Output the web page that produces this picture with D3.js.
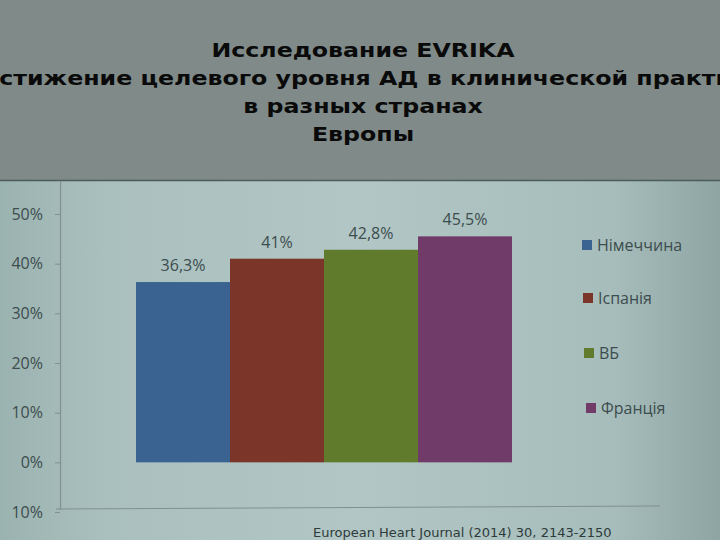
<!DOCTYPE html>
<html>
<head>
<meta charset="utf-8">
<script src="https://cdn.jsdelivr.net/npm/d3@7"></script>
<style>
  body { margin: 0; background: #7f8a89; }
  svg { display: block; }
</style>
</head>
<body>
<div id="chart"></div>
<script>
var titleLines = ["Исследование EVRIKA",
                  "Достижение целевого уровня АД в клинической практике",
                  "в разных странах",
                  "Европы"],
    countries = ["Німеччина", "Іспанія", "ВБ", "Франція"],
    values = [36.3, 41, 42.8, 45.5],
    valueLabels = ["36,3%", "41%", "42,8%", "45,5%"],
    colors = ["#3b6391", "#7c3529", "#617b2d", "#713b69"],
    tickValues = [-10, 0, 10, 20, 30, 40, 50],
    tickLabels = ["10%", "0%", "10%", "20%", "30%", "40%", "50%"],
    source = "European Heart Journal (2014) 30, 2143-2150";

var W = 720, H = 540;

var svg = d3.select("#chart")
            .append("svg")
            .attr("width", W)
            .attr("height", H);

var defs = svg.append("defs");
var grad = defs.append("linearGradient").attr("id", "slide")
               .attr("x1", "0").attr("x2", "1").attr("y1", "0").attr("y2", "0");
grad.append("stop").attr("offset", "0").attr("stop-color", "#9bb3b0");
grad.append("stop").attr("offset", "0.15").attr("stop-color", "#aac0be");
grad.append("stop").attr("offset", "0.5").attr("stop-color", "#b2c7c5");
grad.append("stop").attr("offset", "0.85").attr("stop-color", "#a6bdbb");
grad.append("stop").attr("offset", "1").attr("stop-color", "#8ea5a3");

// banda gris del titulo
svg.append("rect").attr("width", W).attr("height", 180).attr("fill", "#7f8a89");
svg.append("rect").attr("y", 180).attr("width", W).attr("height", H - 180).attr("fill", "url(#slide)");
svg.append("line").attr("x1", 0).attr("x2", W).attr("y1", 180.5).attr("y2", 180.5)
   .attr("stroke", "#4d5b5b").attr("stroke-width", 1.5);

// el titulo aparece estirado en horizontal
var titleY = [57, 85, 113, 141];
svg.append("g")
   .attr("transform", "translate(363,0) scale(1.185,1)")
   .selectAll("text")
   .data(titleLines)
   .enter().append("text")
   .attr("x", 0)
   .attr("y", (d, i) => titleY[i])
   .attr("text-anchor", "middle")
   .attr("font-family", "DejaVu Sans")
   .attr("font-weight", "bold")
   .attr("font-size", 20)
   .attr("fill", "#0a0a0a")
   .text(d => d);

// escalas
var y = d3.scaleLinear().domain([-10, 50]).range([512, 214]);
var x = d3.scaleBand().domain(countries).range([136, 512]).padding(0);

var textColor = "#3d4c4e",
    labelFont = "Open Sans";

var yAxis = d3.axisLeft(y)
              .tickValues(tickValues)
              .tickSize(5)
              .tickPadding(12)
              .tickFormat((d, i) => tickLabels[i]);

var gy = svg.append("g")
            .attr("transform", "translate(60,0)")
            .call(yAxis);
gy.select(".domain").remove();
gy.selectAll(".tick line").attr("stroke", "#7f9191");
gy.selectAll(".tick text")
  .attr("font-family", labelFont)
  .attr("font-size", 16)
  .attr("fill", textColor);

svg.append("line").attr("x1", 60.5).attr("x2", 60.5).attr("y1", 181).attr("y2", 510)
   .attr("stroke", "#7f9191").attr("stroke-width", 1.2);
svg.append("line").attr("x1", 56).attr("x2", 660).attr("y1", 509).attr("y2", 506)
   .attr("stroke", "#7f9191").attr("stroke-width", 1.2);

// barras
svg.append("g").selectAll("rect")
   .data(values)
   .enter().append("rect")
   .attr("x", (d, i) => x(countries[i]))
   .attr("width", x.bandwidth())
   .attr("y", d => y(d))
   .attr("height", d => y(0) - y(d))
   .attr("fill", (d, i) => colors[i]);

svg.append("g").selectAll("text")
   .data(values)
   .enter().append("text")
   .attr("x", (d, i) => x(countries[i]) + x.bandwidth() / 2)
   .attr("y", d => y(d) - 11)
   .attr("text-anchor", "middle")
   .attr("font-family", labelFont)
   .attr("font-size", 16)
   .attr("fill", textColor)
   .text((d, i) => valueLabels[i]);

// leyenda
var legendY = [245, 298, 353, 408],
    legendX = [582, 583, 584, 586];
var lg = svg.append("g").selectAll("g")
            .data(countries)
            .enter().append("g")
            .attr("transform", (d, i) => "translate(" + legendX[i] + "," + legendY[i] + ")");
lg.append("rect").attr("x", 0).attr("y", -5).attr("width", 10).attr("height", 10)
  .attr("fill", (d, i) => colors[i]);
lg.append("text").attr("x", 15).attr("y", 6)
  .attr("font-family", labelFont)
  .attr("font-size", 16)
  .attr("fill", textColor)
  .text(d => d);

svg.append("text")
   .attr("x", 313).attr("y", 537)
   .attr("font-family", "DejaVu Sans")
   .attr("font-size", 13)
   .attr("fill", "#2e3b3b")
   .text(source);
</script>
</body>
</html>
